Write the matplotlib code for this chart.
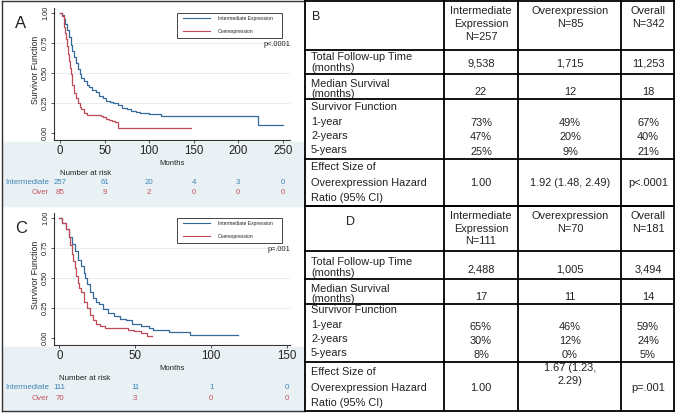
import matplotlib.pyplot as plt
from matplotlib.lines import Line2D
from matplotlib.patches import Rectangle
from matplotlib.transforms import blended_transform_factory

W, H = 678, 415

# Kaplan-Meier curves (months, survivor function)
a_int_t = [0, 2, 4, 6, 8, 10, 12, 14, 16, 18, 20, 22, 24, 27, 30, 33, 36, 40, 44, 48, 52, 56, 60,
           65, 70, 75, 80, 85, 90, 100, 108, 113, 222, 250]
a_int_s = [1.0, 0.98, 0.95, 0.91, 0.86, 0.80, 0.73, 0.68, 0.63, 0.58, 0.53, 0.49, 0.46, 0.43, 0.40,
           0.38, 0.36, 0.34, 0.31, 0.29, 0.27, 0.26, 0.25, 0.23, 0.21, 0.20, 0.185, 0.175, 0.165,
           0.16, 0.155, 0.14, 0.07, 0.07]
a_over_t = [0, 2, 4, 5, 6, 7, 8, 9, 10, 11, 12, 13, 14, 16, 18, 20, 22, 24, 27, 30, 46, 48, 52,
            55, 58, 62, 65, 147]
a_over_s = [1.0, 0.97, 0.93, 0.88, 0.83, 0.78, 0.72, 0.66, 0.60, 0.54, 0.49, 0.44, 0.40, 0.33,
            0.29, 0.25, 0.22, 0.20, 0.17, 0.15, 0.14, 0.13, 0.12, 0.11, 0.10, 0.09, 0.045, 0.045]

c_int_t = [0, 2, 4, 6, 8, 10, 12, 14, 16, 17, 18, 20, 22, 24, 26, 29, 32, 36, 40, 44, 48, 54, 59,
           62, 72, 86, 118]
c_int_s = [1.0, 0.96, 0.91, 0.84, 0.78, 0.72, 0.65, 0.60, 0.54, 0.50, 0.45, 0.38, 0.33, 0.30,
           0.28, 0.24, 0.21, 0.18, 0.16, 0.15, 0.12, 0.10, 0.08, 0.065, 0.05, 0.025, 0.025]
c_over_t = [0, 2, 4, 6, 7, 8, 9, 10, 11, 12, 13, 14, 16, 18, 20, 22, 24, 27, 30, 45, 49, 54, 58, 61]
c_over_s = [1.0, 0.96, 0.91, 0.84, 0.77, 0.70, 0.64, 0.58, 0.52, 0.46, 0.42, 0.38, 0.30, 0.25,
            0.19, 0.15, 0.12, 0.10, 0.08, 0.07, 0.055, 0.04, 0.02, 0.02]

# numbers at risk
a_risk_months = [0, 50, 100, 150, 200, 250]
a_risk_int = [257, 61, 20, 4, 3, 0]
a_risk_over = [85, 9, 2, 0, 0, 0]
c_risk_months = [0, 50, 100, 150]
c_risk_int = [111, 11, 1, 0]
c_risk_over = [70, 3, 0, 0]

y_ticks = [0.0, 0.25, 0.5, 0.75, 1.0]
y_tick_labels = ["0.00", "0.25", "0.50", "0.75", "1.00"]

# tables B and D
b_heads = [["Intermediate", "Expression", "N=257"], ["Overexpression", "N=85"], ["Overall", "N=342"]]
b_followup = ["9,538", "1,715", "11,253"]
b_median = ["22", "12", "18"]
b_surv = [["73%", "47%", "25%"], ["49%", "20%", "9%"], ["67%", "40%", "21%"]]
b_effect = [["1.00"], ["1.92 (1.48, 2.49)"], ["p<.0001"]]

d_heads = [["Intermediate", "Expression", "N=111"], ["Overexpression", "N=70"], ["Overall", "N=181"]]
d_followup = ["2,488", "1,005", "3,494"]
d_median = ["17", "11", "14"]
d_surv = [["65%", "30%", "8%"], ["46%", "12%", "0%"], ["59%", "24%", "5%"]]
d_effect = [["1.00"], ["1.67 (1.23,", "2.29)"], ["p=.001"]]

row_labels = [["Total Follow-up Time", "(months)"], ["Median Survival", "(months)"],
              ["Survivor Function", "1-year", "2-years", "5-years"],
              ["Effect Size of", "Overexpression Hazard", "Ratio (95% CI)"]]

BLUE = '#34699a'
RED = '#bf4a55'
BLUE_TXT = '#3d86b8'
RED_TXT = '#c4525c'
INK = '#222222'

plt.rcParams['font.family'] = ['Liberation Sans', 'DejaVu Sans']

fig = plt.figure(figsize=(W / 100, H / 100), dpi=100)


def fx(x):
    return x / W


def fy(y):
    return 1 - y / H


def hline(y, x0, x1, lw=1.3, color='black'):
    fig.add_artist(Line2D([fx(x0), fx(x1)], [fy(y), fy(y)], lw=lw, color=color,
                          transform=fig.transFigure))


def vline(x, y0, y1, lw=1.3, color='black'):
    fig.add_artist(Line2D([fx(x), fx(x)], [fy(y0), fy(y1)], lw=lw, color=color,
                          transform=fig.transFigure))


def ftext(x, y, s, **kw):
    kw.setdefault('color', INK)
    fig.text(fx(x), fy(y), s, **kw)


def km_panel(top, letter, pval, xlim, xticks, ti, si, to, so, risk_x, risk_i, risk_o):
    # light bluish band behind the risk table
    fig.add_artist(Rectangle((fx(2), fy(top + 206)), fx(303), 64 / H,
                             transform=fig.transFigure, color='#eaf1f4', zorder=0))
    ax = fig.add_axes([fx(54), fy(top + 140), (290 - 54) / W, 132 / H])
    ax.set_xlim(*xlim)
    ax.set_ylim(-0.058, 1.04)
    for g in [0.25, 0.5, 0.75]:
        ax.axhline(g, color='#e6edf0', lw=0.7, zorder=0)
    ax.step(ti, si, where='post', color=BLUE, lw=0.9)
    ax.step(to, so, where='post', color=RED, lw=0.9)
    for sp in ['top', 'right']:
        ax.spines[sp].set_visible(False)
    for sp in ['left', 'bottom']:
        ax.spines[sp].set_linewidth(0.8)
        ax.spines[sp].set_color('#333333')
    ax.set_xticks(xticks)
    ax.set_xticklabels([str(v) for v in xticks], fontsize=8.3, color=INK)
    ax.set_yticks(y_ticks)
    ax.set_yticklabels(y_tick_labels, fontsize=5.3, rotation=90, va='center', color=INK)
    ax.tick_params(length=2.5, width=0.6, pad=1, color='#333333')

    ftext(21, top + 23, letter, fontsize=12, ha='center', va='center')
    ftext(36, top + 70, "Survivor Function", fontsize=6.3, rotation=90, ha='center', va='center')
    ftext(172, top + 163, "Months", fontsize=5.6, ha='center', va='center')

    # legend box
    fig.add_artist(Rectangle((fx(177), fy(top + 38)), 105 / W, 25 / H, transform=fig.transFigure,
                             fill=False, ec='#444444', lw=0.7))
    hline(top + 18.5, 183, 210, lw=0.8, color=BLUE)
    hline(top + 31, 183, 210, lw=0.8, color=RED)
    ftext(218, top + 18.5, "Intermediate Expression", fontsize=3.6, va='center')
    ftext(218, top + 31, "Overexpression", fontsize=3.6, va='center')
    ftext(290, top + 44, pval, fontsize=5.3, ha='right', va='center')

    # number at risk table
    tr = blended_transform_factory(ax.transData, fig.transFigure)
    ax.text(0, fy(top + 173), "Number at risk", transform=tr, fontsize=5.7, color=INK,
            ha='left', va='center')
    ftext(49, top + 182, "Intermediate", fontsize=5.7, color=BLUE_TXT, ha='right', va='center')
    ftext(49, top + 193, "Over", fontsize=5.7, color=RED_TXT, ha='right', va='center')
    for m, ni, no in zip(risk_x, risk_i, risk_o):
        ax.text(m, fy(top + 182), str(ni), transform=tr, fontsize=5.7, color=BLUE_TXT,
                ha='center', va='center')
        ax.text(m, fy(top + 193), str(no), transform=tr, fontsize=5.7, color=RED_TXT,
                ha='center', va='center')


km_panel(0, "A", "p<.0001", (-6.7, 258), a_risk_months, a_int_t, a_int_s, a_over_t, a_over_s,
         a_risk_months, a_risk_int, a_risk_over)
km_panel(205, "C", "p=.001", (-3.6, 152), c_risk_months, c_int_t, c_int_s, c_over_t, c_over_s,
         c_risk_months, c_risk_int, c_risk_over)

# left panel frame
vline(2, 1.5, 411, lw=1.0, color='#333333')
hline(1.5, 2, 305, lw=1.0, color='#333333')
hline(410.5, 2, 305, lw=1.0, color='#333333')

col_x = [481, 570, 648]
fs = 7.9


def table(top, letter, letter_x, heads, followup, median, surv, effect, hy, fy_, my, sy, ey):
    rows = [top, top + hy, top + fy_, top + my, top + sy, top + ey]
    for y in rows:
        hline(y, 305, 674)
    for x in [305, 444, 518, 621, 674]:
        vline(x, top, top + ey)
    ftext(letter_x, top + 16, letter, fontsize=9, va='center')
    for cx, lines in zip(col_x, heads):
        for i, s in enumerate(lines):
            ftext(cx, top + 10 + 12.7 * i, s, fontsize=fs, ha='center', va='center')
    lbl_y = [[top + fy_ - 17, top + fy_ - 6], [top + my - 15, top + my - 5],
             [top + sy - 52, top + sy - 37, top + sy - 23, top + sy - 9],
             [top + ey - 39, top + ey - 23, top + ey - 8]]
    for lines, ys in zip(row_labels, lbl_y):
        for s, y in zip(lines, ys):
            ftext(311, y, s, fontsize=fs, va='center')
    for cx, f, m, sv, ef in zip(col_x, followup, median, surv, effect):
        ftext(cx, top + fy_ - 10, f, fontsize=fs, ha='center', va='center')
        ftext(cx, top + my - 7, m, fontsize=fs, ha='center', va='center')
        for s, y in zip(sv, lbl_y[2][1:]):
            ftext(cx, y + 1.5, s, fontsize=fs, ha='center', va='center')
        if len(ef) == 1:
            ftext(cx, lbl_y[3][1], ef[0], fontsize=fs, ha='center', va='center')
        else:
            ftext(cx, top + ey - 43, ef[0], fontsize=fs, ha='center', va='center')
            ftext(cx, top + ey - 30, ef[1], fontsize=fs, ha='center', va='center')


table(1.5, "B", 312, b_heads, b_followup, b_median, b_surv, b_effect, 48.5, 72.5, 97.5, 157.5, 204.5)
table(206, "D", 346, d_heads, d_followup, d_median, d_surv, d_effect, 45, 73, 98, 156, 204.5)

fig.savefig('out.png', dpi=100)
